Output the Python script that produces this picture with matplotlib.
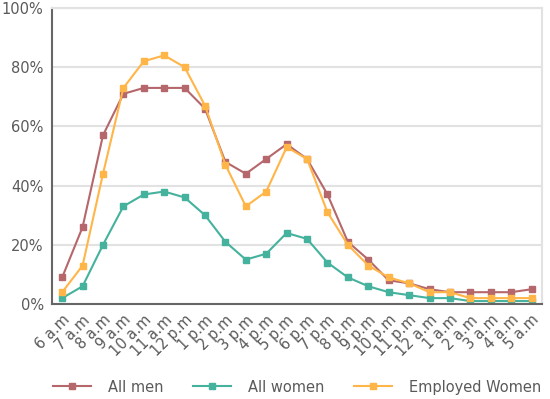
import matplotlib.pyplot as plt
from matplotlib.ticker import PercentFormatter

hours = ['6 a.m', '7 a.m', '8 a.m', '9 a.m', '10 a.m', '11 a.m', '12 p.m', '1 p.m',
         '2 p.m', '3 p.m', '4 p.m', '5 p.m', '6 p.m', '7 p.m', '8 p.m', '9 p.m',
         '10 p.m', '11 p.m', '12 a.m', '1 a.m', '2 a.m', '3 a.m', '4 a.m', '5 a.m']

all_men = [9, 26, 57, 71, 73, 73, 73, 66, 48, 44, 49, 54,
           49, 37, 21, 15, 8, 7, 5, 4, 4, 4, 4, 5]
all_women = [2, 6, 20, 33, 37, 38, 36, 30, 21, 15, 17, 24,
             22, 14, 9, 6, 4, 3, 2, 2, 1, 1, 1, 1]
employed_women = [4, 13, 44, 73, 82, 84, 80, 67, 47, 33, 38, 53,
                  49, 31, 20, 13, 9, 7, 4, 4, 2, 2, 2, 2]

series = [('All men', all_men, '#b5676b'),
          ('All women', all_women, '#45b29d'),
          ('Employed Women', employed_women, '#ffb547')]

text_col = '#5a5a5a'

fig = plt.figure(figsize=(5.5, 3.99), dpi=100)
ax = fig.add_axes([0.0945, 0.238, 0.8905, 0.742])

x = list(range(len(hours)))
for name, vals, col in series:
    ax.plot(x, vals, color=col, lw=1.5, marker='s', ms=5, label=name)

ax.set_xlim(-0.5, len(hours) - 0.5)
ax.set_ylim(0, 100)
ax.set_yticks([0, 20, 40, 60, 80, 100])
ax.yaxis.set_major_formatter(PercentFormatter(decimals=0))
ax.set_xticks(x)
ax.set_xticklabels(hours, rotation=45, ha='right', rotation_mode='anchor')
ax.tick_params(axis='both', length=0, labelsize=10.5, colors=text_col)
ax.tick_params(axis='x', pad=6)
ax.tick_params(axis='y', pad=6)

ax.grid(axis='y', color='#e2e2e2', lw=1.5)
ax.set_axisbelow(True)
for s in ['left', 'bottom']:
    ax.spines[s].set_color('#666666')
    ax.spines[s].set_linewidth(1.5)
for s in ['top', 'right']:
    ax.spines[s].set_color('#e2e2e2')
    ax.spines[s].set_linewidth(1.5)

fig.legend(loc='center', bbox_to_anchor=(0.54, 0.03), ncol=3, frameon=False,
           fontsize=10.5, labelcolor=text_col, handlelength=2.6,
           handletextpad=1.2, columnspacing=2.0)

plt.savefig('out.png', dpi=100)
